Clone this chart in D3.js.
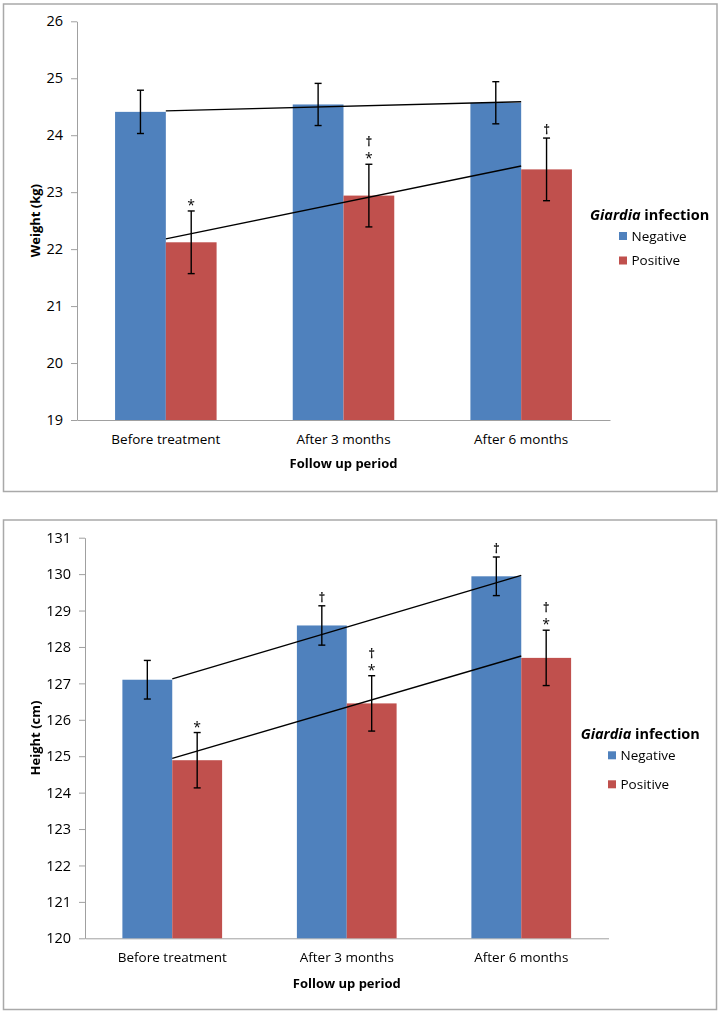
<!DOCTYPE html>
<html>
<head>
<meta charset="utf-8">
<script src="https://cdn.jsdelivr.net/npm/d3@7"></script>
<style>
  html, body { margin: 0; padding: 0; background: #fff; }
  svg { display: block; }
  text { font-family: "Open Sans", "Noto Sans", sans-serif; fill: #000; }
  .mark { opacity: 0.99; will-change: transform; }
</style>
</head>
<body>
<script>
// ---------------- DATA ----------------
const categories = ["Before treatment", "After 3 months", "After 6 months"];
const seriesNames = ["Negative", "Positive"];

const weightNegative = [24.41, 24.54, 24.57];
const weightPositive = [22.12, 22.94, 23.40];
const weightNegativeErr = [0.38, 0.37, 0.37];
const weightPositiveErr = [0.55, 0.55, 0.55];
const weightNegativeMarks = ["", "", ""];
const weightPositiveMarks = ["*", "†*", "†"];
const weightTicks = [19, 20, 21, 22, 23, 24, 25, 26];

const heightNegative = [127.10, 128.59, 129.94];
const heightPositive = [124.89, 126.45, 127.70];
const heightNegativeErr = [0.53, 0.54, 0.53];
const heightPositiveErr = [0.76, 0.76, 0.76];
const heightNegativeMarks = ["", "†", "†"];
const heightPositiveMarks = ["*", "†*", "†*"];
const heightTicks = [120, 121, 122, 123, 124, 125, 126, 127, 128, 129, 130, 131];

const xAxisTitle = "Follow up period";
const legendTitleItalic = "Giardia";
const legendTitleRest = " infection";

// ---------------- STYLE ----------------
const colors = { Negative: "#4F81BD", Positive: "#C0504D" };
const W = 723, H = 1015;

const svg = d3.select("body").append("svg").attr("width", W).attr("height", H);
svg.append("rect").attr("width", W).attr("height", H).attr("fill", "#fff");

function drawChart(cfg) {
  const g = svg.append("g");
  // frame
  g.append("rect")
    .attr("x", cfg.frame[0]).attr("y", cfg.frame[1])
    .attr("width", cfg.frame[2]).attr("height", cfg.frame[3])
    .attr("fill", "#fff").attr("stroke", "#a9a9a9").attr("stroke-width", 1.5);

  const x0 = d3.scaleBand().domain(categories).range([cfg.left, cfg.right]).padding(0);
  const x1 = d3.scaleBand().domain(seriesNames).range([0, x0.bandwidth()])
    .paddingInner(0).paddingOuter(0.75);
  const y = d3.scaleLinear().domain(cfg.domain).range([cfg.bottom, cfg.top]);

  // y axis
  const yAxis = d3.axisLeft(y).tickValues(cfg.ticks).tickFormat(d3.format("d"))
    .tickSize(6).tickSizeOuter(0).tickPadding(8);
  const ya = g.append("g").attr("transform", `translate(${cfg.left},0)`).call(yAxis);
  ya.select(".domain").attr("stroke", "#a0a0a0").attr("stroke-width", 1);
  ya.selectAll(".tick line").attr("stroke", "#a0a0a0");
  ya.selectAll(".tick text").attr("font-size", 14.5).attr("font-family", "Open Sans").attr("fill", "#000");

  // x axis
  const xAxis = d3.axisBottom(x0).tickSize(0).tickSizeOuter(0).tickPadding(14);
  const xa = g.append("g").attr("transform", `translate(0,${cfg.bottom})`).call(xAxis);
  xa.select(".domain").attr("stroke", "#a0a0a0").attr("stroke-width", 1);
  xa.selectAll(".tick text").attr("font-size", 13.5).attr("font-family", "Open Sans").attr("fill", "#000");

  // bars
  const rows = categories.map((c, i) => ({
    cat: c,
    vals: seriesNames.map(s => ({
      s, v: cfg.values[s][i], e: cfg.errs[s][i], m: cfg.marks[s][i]
    }))
  }));
  const grp = g.append("g").selectAll("g").data(rows).join("g")
    .attr("transform", d => `translate(${x0(d.cat)},0)`);
  grp.selectAll("rect").data(d => d.vals).join("rect")
    .attr("x", d => x1(d.s))
    .attr("width", x1.bandwidth())
    .attr("y", d => y(d.v))
    .attr("height", d => y(cfg.domain[0]) - y(d.v))
    .attr("fill", d => colors[d.s]);

  // trend lines (linear least squares over category index)
  seriesNames.forEach(s => {
    const vals = cfg.values[s];
    const xs = vals.map((_, i) => i + 1);
    const mx = d3.mean(xs), my = d3.mean(vals);
    const slope = d3.sum(xs.map((xv, i) => (xv - mx) * (vals[i] - my))) /
                  d3.sum(xs.map(xv => (xv - mx) * (xv - mx)));
    const icpt = my - slope * mx;
    const first = categories[0], last = categories[categories.length - 1];
    g.append("line")
      .attr("x1", x0(first) + x0.bandwidth() / 2)
      .attr("y1", y(icpt + slope * 1))
      .attr("x2", x0(last) + x0.bandwidth() / 2)
      .attr("y2", y(icpt + slope * categories.length))
      .attr("stroke", "#000").attr("stroke-width", 1.4);
  });

  // error bars
  const eb = grp.selectAll("g.eb").data(d => d.vals).join("g").attr("class", "eb")
    .attr("transform", d => `translate(${x1(d.s) + x1.bandwidth() / 2},0)`);
  eb.append("line").attr("x1", 0).attr("x2", 0)
    .attr("y1", d => y(d.v + d.e)).attr("y2", d => y(d.v - d.e))
    .attr("stroke", "#000").attr("stroke-width", 1.4);
  eb.append("line").attr("x1", -3.5).attr("x2", 3.5)
    .attr("y1", d => y(d.v + d.e)).attr("y2", d => y(d.v + d.e))
    .attr("stroke", "#000").attr("stroke-width", 1.4);
  eb.append("line").attr("x1", -3.5).attr("x2", 3.5)
    .attr("y1", d => y(d.v - d.e)).attr("y2", d => y(d.v - d.e))
    .attr("stroke", "#000").attr("stroke-width", 1.4);

  // significance marks
  eb.each(function (d) {
    const syms = Array.from(d.m);
    const top = y(d.v + d.e);
    const sel = d3.select(this);
    let off = 0;
    for (let k = syms.length - 1; k >= 0; k--) {
      const sym = syms[k];
      if (sym === "*") {
        sel.append("text").attr("class", "mark").attr("x", 0).attr("y", top - 1 - off)
          .attr("text-anchor", "middle").attr("font-size", 14)
          .style("fill", "#000").text(sym);
        off += 14;
      } else {
        sel.append("text").attr("class", "mark").attr("x", 0).attr("y", top - 4 - off)
          .attr("text-anchor", "middle").attr("font-size", 12.5)
          .attr("font-family", "DejaVu Sans").style("fill", "#000")
          .attr("stroke", "#000").attr("stroke-width", 0.25)
          .text(sym);
        off += 14;
      }
    }
  });

  // axis titles
  g.append("text")
    .attr("transform", `translate(${cfg.yTitleX},${(cfg.top + cfg.bottom) / 2}) rotate(-90)`)
    .attr("text-anchor", "middle").attr("dominant-baseline", "central")
    .attr("font-weight", "bold").attr("font-size", 13).text(cfg.yTitle);
  g.append("text")
    .attr("x", (cfg.left + cfg.right) / 2).attr("y", cfg.xTitleY)
    .attr("text-anchor", "middle")
    .attr("font-weight", "bold").attr("font-size", 13).text(xAxisTitle);

  // legend
  const lt = g.append("text").attr("x", cfg.legend.x).attr("y", cfg.legend.y)
    .attr("font-weight", "bold").attr("font-size", 14.5);
  lt.append("tspan").attr("font-style", "italic").text(legendTitleItalic);
  lt.append("tspan").text(legendTitleRest);
  seriesNames.forEach((s, i) => {
    const yy = cfg.legend.itemY + i * cfg.legend.step;
    g.append("rect").attr("x", cfg.legend.sqX).attr("y", yy - 8)
      .attr("width", 8).attr("height", 8).attr("fill", colors[s]);
    g.append("text").attr("x", cfg.legend.sqX + 12.5).attr("y", yy + 0.5)
      .attr("font-size", 13.5).text(s);
  });
}

drawChart({
  frame: [3.5, 4, 713.5, 487.5],
  left: 77, right: 610, top: 21.3, bottom: 420,
  domain: [19, 26], ticks: weightTicks,
  values: { Negative: weightNegative, Positive: weightPositive },
  errs: { Negative: weightNegativeErr, Positive: weightPositiveErr },
  marks: { Negative: weightNegativeMarks, Positive: weightPositiveMarks },
  yTitle: "Weight (kg)", yTitleX: 34.5, xTitleY: 468,
  legend: { x: 590, y: 220, sqX: 619, itemY: 240, step: 24.5 }
});

drawChart({
  frame: [3.5, 520, 713, 489.5],
  left: 85, right: 608.5, top: 537.7, bottom: 938.3,
  domain: [120, 131], ticks: heightTicks,
  values: { Negative: heightNegative, Positive: heightPositive },
  errs: { Negative: heightNegativeErr, Positive: heightPositiveErr },
  marks: { Negative: heightNegativeMarks, Positive: heightPositiveMarks },
  yTitle: "Height (cm)", yTitleX: 34.5, xTitleY: 987.5,
  legend: { x: 580.7, y: 738.5, sqX: 608, itemY: 759.3, step: 29 }
});
</script>
</body>
</html>
